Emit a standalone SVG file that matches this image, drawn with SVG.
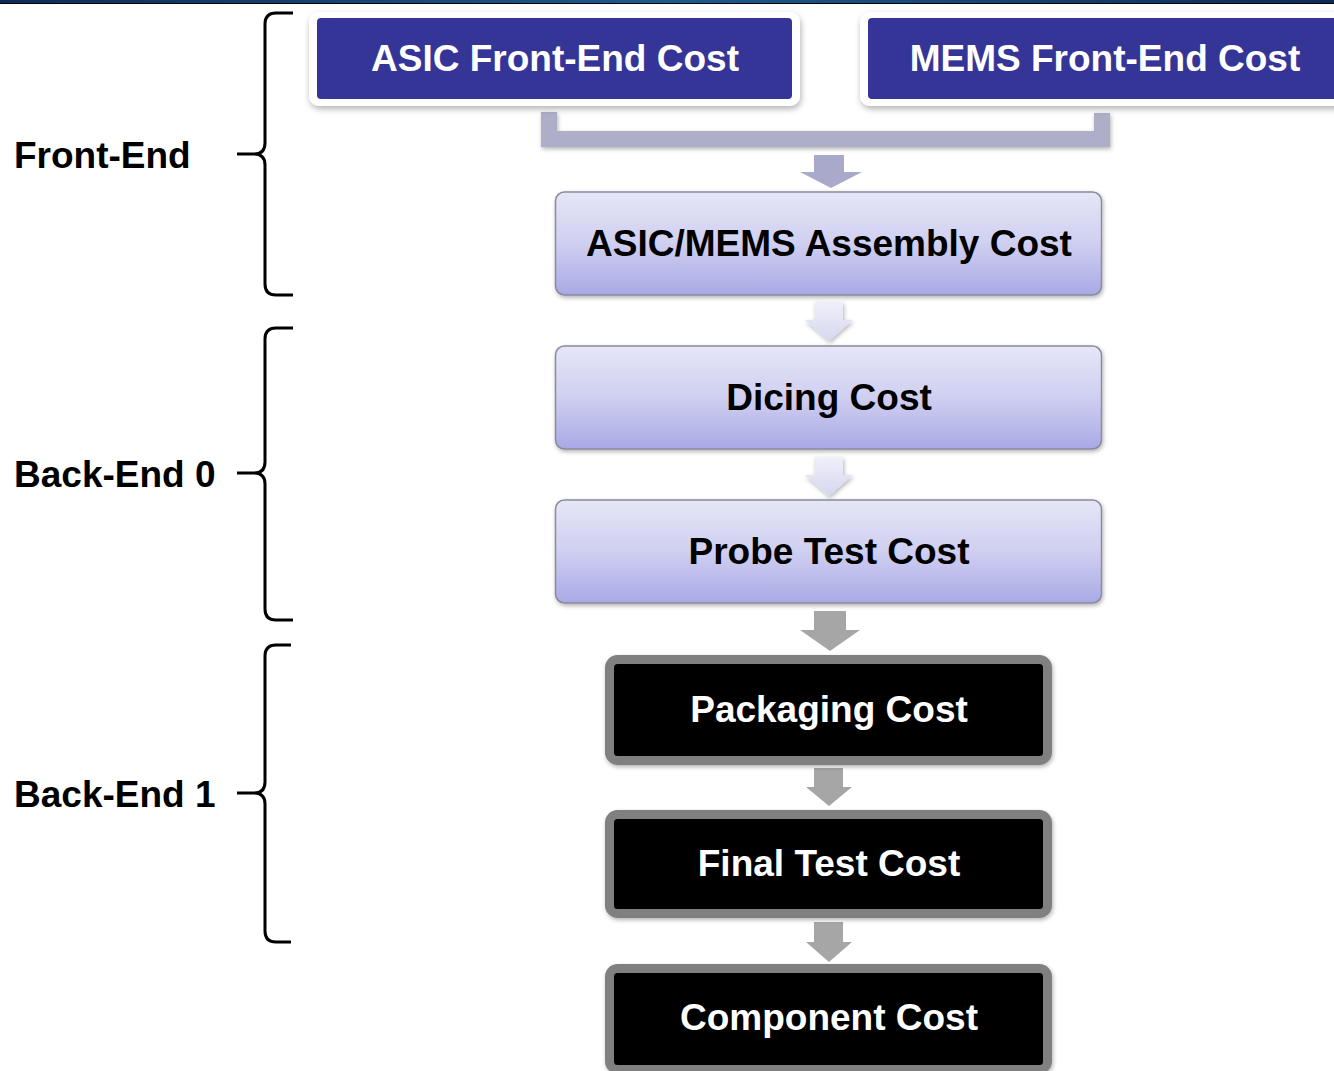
<svg xmlns="http://www.w3.org/2000/svg" width="1334" height="1071" viewBox="0 0 1334 1071">
<defs>
<linearGradient id="lav" x1="0" y1="0" x2="0" y2="1">
<stop offset="0" stop-color="#e6e6f7"/>
<stop offset="0.5" stop-color="#cfcff1"/>
<stop offset="1" stop-color="#a9a9e6"/>
</linearGradient>
<linearGradient id="larr" x1="0" y1="0" x2="0" y2="1">
<stop offset="0" stop-color="#f0f0fa"/>
<stop offset="1" stop-color="#d6d6f0"/>
</linearGradient>
<linearGradient id="topbar" x1="0" y1="0" x2="1" y2="0">
<stop offset="0" stop-color="#0d2c55"/>
<stop offset="0.5" stop-color="#1e5a8e"/>
<stop offset="1" stop-color="#0d2c55"/>
</linearGradient>
<filter id="sh" x="-10%" y="-20%" width="120%" height="150%">
<feDropShadow dx="1" dy="3" stdDeviation="3" flood-color="#000" flood-opacity="0.3"/>
</filter>
<filter id="sh2" x="-10%" y="-20%" width="120%" height="150%">
<feDropShadow dx="1" dy="2" stdDeviation="2" flood-color="#000" flood-opacity="0.3"/>
</filter>
</defs>
<style>
.lbl{font-family:"Liberation Sans",Arial,sans-serif;font-weight:bold;font-size:37px;}
.w{fill:#ffffff;}
.k{fill:#000000;}
.brace{fill:none;stroke:#000;stroke-width:3;stroke-linejoin:round;stroke-linecap:butt;}
.lav{fill:url(#lav);stroke:#8a8a9a;stroke-width:1.5;}
.blk{fill:#000;stroke:#808080;stroke-width:9;}
.garr{fill:#a6a6a6;}
.larr{fill:url(#larr);}
</style>
<rect x="0" y="0" width="1334" height="4" fill="url(#topbar)"/>
<rect x="0" y="3" width="1334" height="1" fill="#000"/>

<g id="connectors">
<path d="M541,112 H557 V131 H1094 V113 H1110 V147 H541 Z" fill="#aeaec9" filter="url(#sh2)"/>
<path d="M814,155 H844 V172 H862 L831,188 L800,172 H814 Z" fill="#a9a9cc"/>
<path class="larr" d="M815,302 H843 V320 H853 L829,341 L805,320 H815 Z" filter="url(#sh2)"/>
<path class="larr" d="M815,457 H843 V475 H853 L829,496 L805,475 H815 Z" filter="url(#sh2)"/>
<path class="garr" d="M814,611 H846 V630 H860 L830,651 L800,630 H814 Z"/>
<path class="garr" d="M814,768 H843 V787 H852 L829,806 L806,787 H814 Z"/>
<path class="garr" d="M814,922 H843 V942 H852 L829,962 L806,942 H814 Z"/>
</g>

<g id="brace-frontend">
<path class="brace" d="M293,13 H276 Q265,13 265,24 V143 Q265,154 254,154 H237 M254,154 Q265,154 265,165 V284 Q265,295 276,295 H293"/>
<text class="lbl k" x="14" y="168">Front-End</text>
</g>
<g id="brace-backend0">
<path class="brace" d="M293,328 H276 Q265,328 265,339 V462 Q265,473 254,473 H237 M254,473 Q265,473 265,484 V609 Q265,620 276,620 H293"/>
<text class="lbl k" x="14" y="487">Back-End 0</text>
</g>
<g id="brace-backend1">
<path class="brace" d="M291,645 H276 Q265,645 265,656 V782 Q265,793 254,793 H237 M254,793 Q265,793 265,804 V931 Q265,942 276,942 H291"/>
<text class="lbl k" x="14" y="807">Back-End 1</text>
</g>

<g id="asic-fe">
<rect x="309" y="12" width="491" height="94" rx="10" fill="#fff" filter="url(#sh)"/>
<rect x="317" y="18" width="475" height="81" rx="4" fill="#353597"/>
<text class="lbl w" x="555" y="71" text-anchor="middle">ASIC Front-End Cost</text>
</g>
<g id="mems-fe">
<rect x="860" y="12" width="500" height="94" rx="10" fill="#fff" filter="url(#sh)"/>
<rect x="868" y="18" width="480" height="81" rx="4" fill="#353597"/>
<text class="lbl w" x="1105" y="71" text-anchor="middle">MEMS Front-End Cost</text>
</g>

<g id="assembly">
<rect class="lav" x="555.5" y="192" width="546" height="103" rx="9" filter="url(#sh2)"/>
<text class="lbl k" x="829" y="256" text-anchor="middle">ASIC/MEMS Assembly Cost</text>
</g>
<g id="dicing">
<rect class="lav" x="555.5" y="346" width="546" height="103" rx="9" filter="url(#sh2)"/>
<text class="lbl k" x="829" y="410" text-anchor="middle">Dicing Cost</text>
</g>
<g id="probe">
<rect class="lav" x="555.5" y="500" width="546" height="103" rx="9" filter="url(#sh2)"/>
<text class="lbl k" x="829" y="564" text-anchor="middle">Probe Test Cost</text>
</g>

<g id="packaging">
<rect class="blk" x="609.5" y="659.5" width="438" height="101" rx="8" filter="url(#sh2)"/>
<text class="lbl w" x="829" y="722" text-anchor="middle">Packaging Cost</text>
</g>
<g id="finaltest">
<rect class="blk" x="609.5" y="814.5" width="438" height="99" rx="8" filter="url(#sh2)"/>
<text class="lbl w" x="829" y="876" text-anchor="middle">Final Test Cost</text>
</g>
<g id="component">
<rect class="blk" x="609.5" y="968.5" width="438" height="101" rx="8" filter="url(#sh2)"/>
<text class="lbl w" x="829" y="1030" text-anchor="middle">Component Cost</text>
</g>
</svg>
